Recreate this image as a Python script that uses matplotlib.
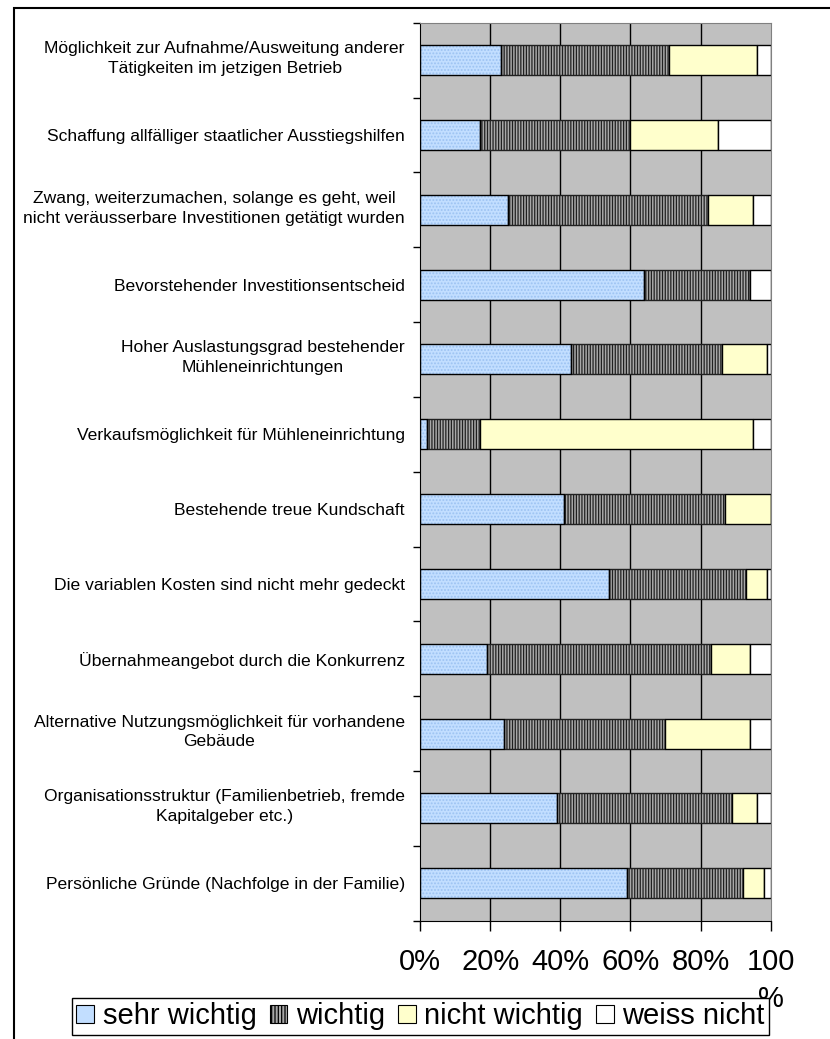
import numpy as np
import matplotlib
matplotlib.use("Agg")
import matplotlib.pyplot as plt
import matplotlib.transforms as mtransforms
from matplotlib.patches import Patch, Rectangle

plt.rcParams['font.family'] = ['Liberation Sans', 'DejaVu Sans']
plt.rcParams['hatch.linewidth'] = 0.9

# Gründe (von oben nach unten)
categories = [
    "Möglichkeit zur Aufnahme/Ausweitung anderer\nTätigkeiten im jetzigen Betrieb",
    "Schaffung allfälliger staatlicher Ausstiegshilfen",
    "Zwang, weiterzumachen, solange es geht, weil\nnicht veräusserbare Investitionen getätigt wurden",
    "Bevorstehender Investitionsentscheid",
    "Hoher Auslastungsgrad bestehender\nMühleneinrichtungen",
    "Verkaufsmöglichkeit für Mühleneinrichtung",
    "Bestehende treue Kundschaft",
    "Die variablen Kosten sind nicht mehr gedeckt",
    "Übernahmeangebot durch die Konkurrenz",
    "Alternative Nutzungsmöglichkeit für vorhandene\nGebäude",
    "Organisationsstruktur (Familienbetrieb, fremde\nKapitalgeber etc.)",
    "Persönliche Gründe (Nachfolge in der Familie)",
]

# Anteile in %
sehr_wichtig = [23, 17, 25, 64, 43, 2, 41, 54, 19, 24, 39, 59]
wichtig = [48, 43, 57, 30, 43, 15, 46, 39, 64, 46, 50, 33]
nicht_wichtig = [25, 25, 13, 0, 13, 78, 13, 6, 11, 24, 7, 6]
weiss_nicht = [4, 15, 5, 6, 1, 5, 0, 1, 6, 6, 4, 2]

series_names = ["sehr wichtig", "wichtig", "nicht wichtig", "weiss nicht"]
x_ticks = [0, 20, 40, 60, 80, 100]
x_labels = ["0%", "20%", "40%", "60%", "80%", "100\n%"]

W, H = 830, 1039
fig = plt.figure(figsize=(W / 100, H / 100), dpi=100)
ax = fig.add_axes([420 / W, 1 - 920.7 / H, 350.7 / W, 898 / H])
ax.set_facecolor('#C0C0C0')

y = np.arange(len(categories))
h = 0.4
left = np.zeros(len(categories))

# sehr wichtig: hellblau gepunktet
ax.barh(y, sehr_wichtig, height=h, left=left, color='#C2DEFF',
        hatch='.....', edgecolor='#9CC2F2', linewidth=0, zorder=2)
ax.barh(y, sehr_wichtig, height=h, left=left, fill=False,
        edgecolor='black', linewidth=1, zorder=3)
left += sehr_wichtig

# wichtig: grau mit senkrechten Streifen
ax.barh(y, wichtig, height=h, left=left, color='#A8A8A8',
        hatch='||||||', edgecolor='#202020', linewidth=1, zorder=2)
left += wichtig

ax.barh(y, nicht_wichtig, height=h, left=left, color='#FFFFCC',
        edgecolor='black', linewidth=1, zorder=2)
left += nicht_wichtig

ax.barh(y, weiss_nicht, height=h, left=left, color='white',
        edgecolor='black', linewidth=1, zorder=2)

ax.set_xlim(0, 100)
ax.set_ylim(len(categories) - 0.5, -0.5)

# vertikale Gitterlinien
for xv in x_ticks[1:-1]:
    ax.axvline(xv, color='black', linewidth=1, zorder=1)

ax.set_xticks(x_ticks)
ax.set_xticklabels(x_labels, fontsize=21, linespacing=1.4)
ax.tick_params(axis='x', direction='out', length=7, width=1, pad=13)

ax.set_yticks(y)
ax.set_yticklabels(categories, fontsize=12.6, multialignment='center',
                   linespacing=1.4)
ax.tick_params(axis='y', which='major', length=0, pad=10.8)
# zweizeilige Beschriftungen sitzen etwas höher
shift = mtransforms.ScaledTranslation(0, 4 / 72, fig.dpi_scale_trans)
for lbl in ax.get_yticklabels():
    if '\n' in lbl.get_text():
        lbl.set_transform(lbl.get_transform() + shift)
ax.set_yticks(np.arange(len(categories) + 1) - 0.5, minor=True)
ax.tick_params(axis='y', which='minor', direction='out', length=5, width=1)

ax.spines['left'].set_color('black')
ax.spines['bottom'].set_color('black')
ax.spines['top'].set_color('#808080')
ax.spines['right'].set_color('#808080')

handles = [
    Patch(facecolor='#C2DEFF', edgecolor='black', linewidth=0.8),
    Patch(facecolor='#A8A8A8', edgecolor='black', hatch='|||||', linewidth=0.8),
    Patch(facecolor='#FFFFCC', edgecolor='black', linewidth=0.8),
    Patch(facecolor='white', edgecolor='black', linewidth=0.8),
]
leg = fig.legend(handles, series_names, loc='center', ncol=4,
                 bbox_to_anchor=(420.5 / W, 1 - 1016.5 / H),
                 bbox_transform=fig.transFigure, fontsize=21,
                 handlelength=0.6, handleheight=0.6, handletextpad=0.3,
                 columnspacing=0.45, borderpad=0.15, borderaxespad=0,
                 fancybox=False, framealpha=1, edgecolor='black')
leg.get_frame().set_linewidth(1)

# äusserer Rahmen
fig.patches.append(Rectangle((14 / W, -0.1), 1.2, 1 - 8 / H + 0.1,
                             transform=fig.transFigure, fill=False,
                             edgecolor='black', linewidth=1.5))

fig.savefig('out.png', dpi=100)
